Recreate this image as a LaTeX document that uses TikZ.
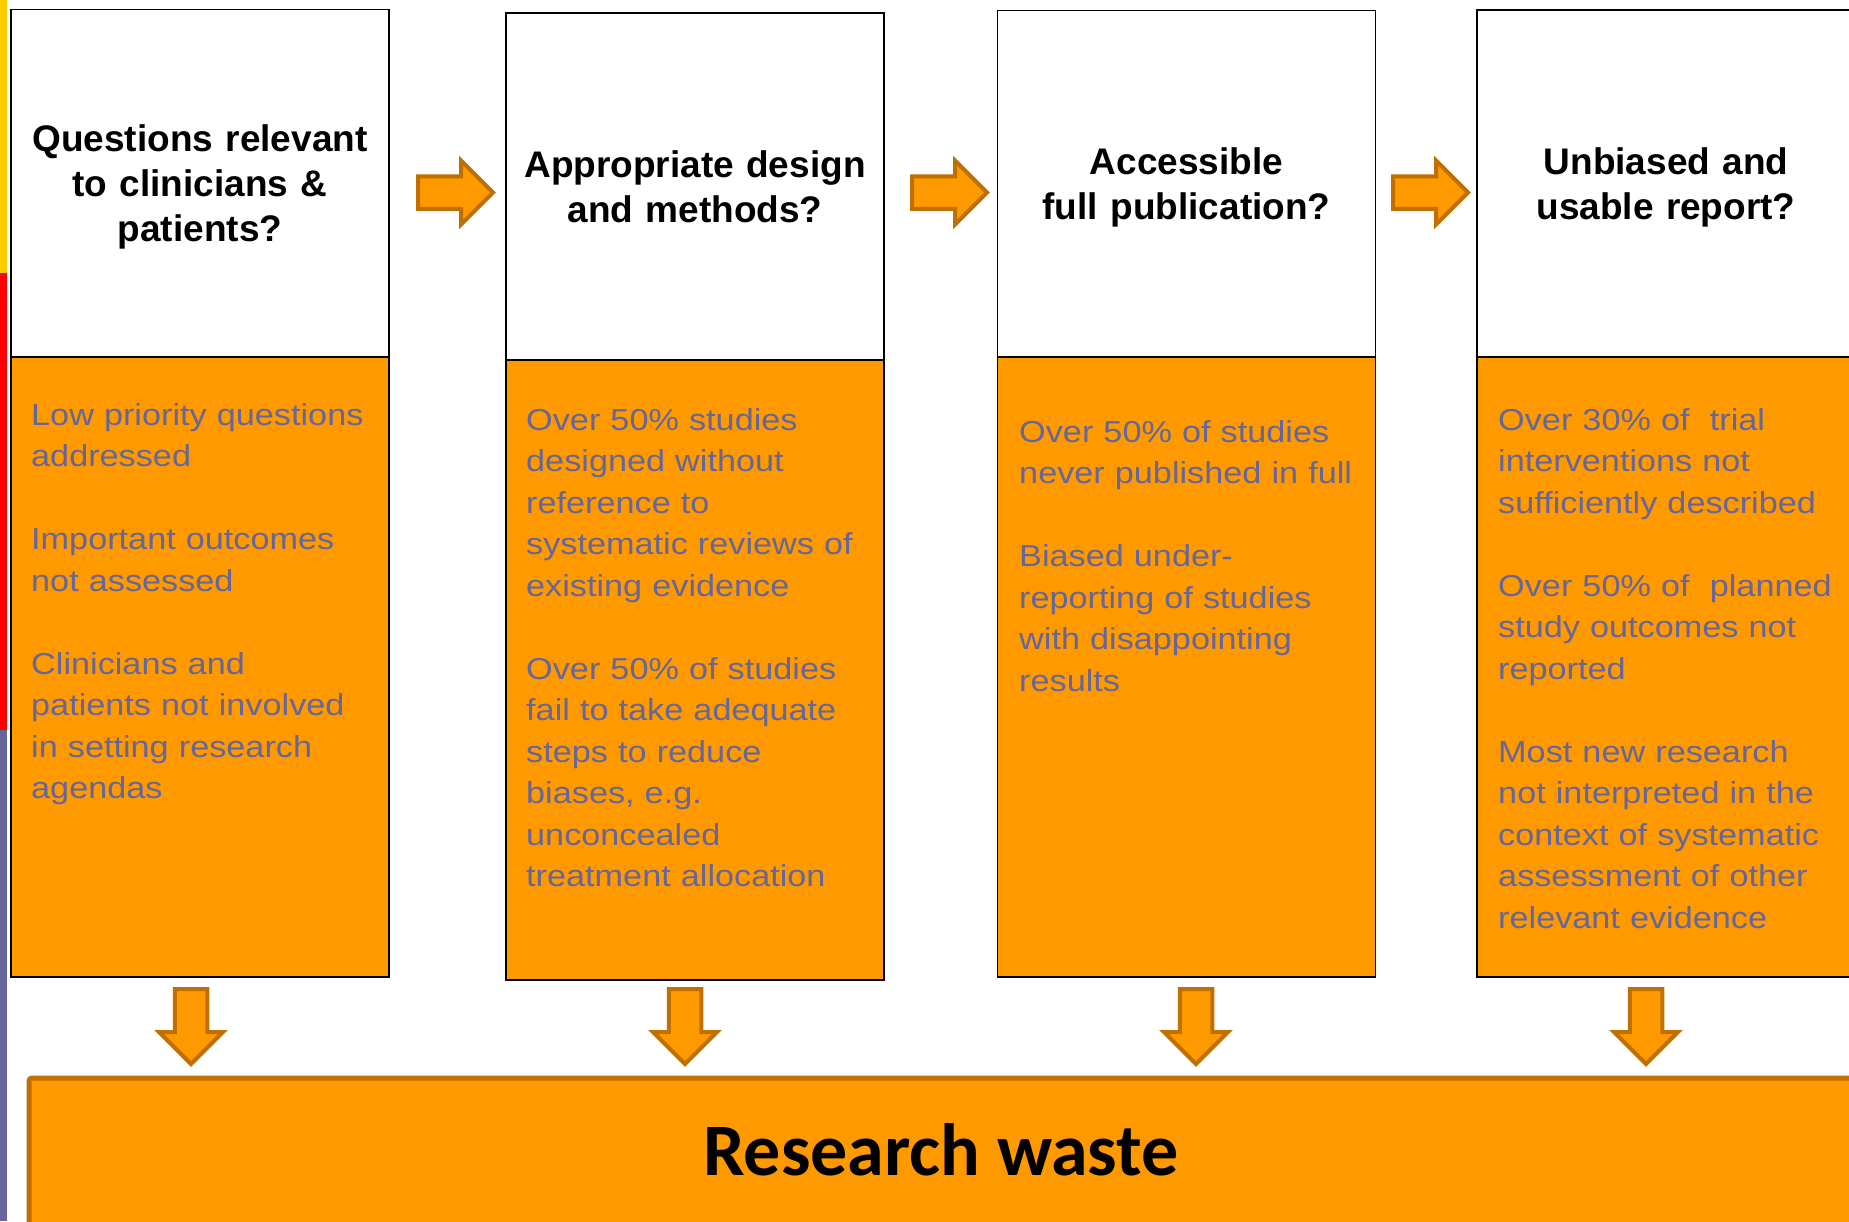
\documentclass[tikz,border=0pt]{standalone}
\usepackage{fontspec}
\setmainfont{Liberation Sans}
\newfontfamily\notefont[FakeStretch=1.13]{Liberation Sans}
\newfontfamily\wastefont{Carlito}
\usepackage{tikz}
\usetikzlibrary{shapes.arrows}

\definecolor{wasteorange}{HTML}{FF9900}
\definecolor{arrowedge}{HTML}{C07000}
\definecolor{notegrey}{HTML}{666699}
\definecolor{stripyellow}{HTML}{FFCC00}
\definecolor{stripred}{HTML}{FF0000}

\begin{document}
\begin{tikzpicture}[
  x=1pt, y=-1pt,
  stage/.style={
    draw=black, line width=1.5pt, fill=white,
    minimum width=378pt, minimum height=347pt, inner sep=0pt,
    text width=360pt, align=center,
    font=\bfseries\fontsize{37}{45}\selectfont,
  },
  loss/.style={
    draw=black, line width=1.5pt, fill=wasteorange,
    minimum width=378pt, minimum height=620pt, inner sep=0pt,
  },
  note/.style={
    anchor=base west, inner sep=0pt, text width=350pt, align=left,
    text=notegrey, font=\notefont\fontsize{30.3}{41.5}\selectfont,
  },
  flow arrow/.style={
    single arrow, fill=wasteorange, draw=arrowedge, line width=4pt,
    inner sep=14.25pt, minimum width=0pt, minimum height=75pt,
    single arrow head extend=15.75pt, anchor=tail,
  },
  ]
  \useasboundingbox (0,0) rectangle (1849,1221);
  \fill[stripyellow] (0,0) rectangle (7,273);
  \fill[stripred] (0,273) rectangle (7,730);
  \fill[notegrey] (0,730) rectangle (7,1221);

  \node [stage] (q1) at (200,183) {Questions relevant\\to clinicians \&\\\smash{patients?}};
  \node [loss] (w1) at (200,667) {};
  \node [note] (t1) at (31,425) {Low priority questions\\addressed\\[41.5pt]
    Important outcomes\\not assessed\\[41.5pt]
    Clinicians and\\patients not involved\\in setting research\\agendas};

  \node [stage] (q2) at (695,186.5) {Appropriate design\\and methods?};
  \node [loss] (w2) at (695,670) {};
  \node [note] (t2) at (526,430) {Over 50\% studies\\designed without\\reference to\\systematic reviews of\\existing evidence\\[41.5pt]
    Over 50\% of studies\\fail to take adequate\\steps to reduce\\biases, e.g.\\unconcealed\\treatment allocation};

  \node [stage] (q3) at (1186.5,184) {Accessible\\\smash{full publication?}};
  \node [loss] (w3) at (1186.5,667) {};
  \node [note] (t3) at (1019,442) {Over 50\% of studies\\never published in full\\[41.5pt]
    Biased under-\\reporting of studies\\with disappointing\\results};

  \node [stage] (q4) at (1666,183.5) {Unbiased and\\\smash{usable report?}};
  \node [loss] (w4) at (1666,667) {};
  \node [note] (t4) at (1498,430) {Over 30\% of \ trial\\interventions not\\sufficiently described\\[41.5pt]
    Over 50\% of \ planned\\study outcomes not\\reported\\[41.5pt]
    Most new research\\not interpreted in the\\context of systematic\\assessment of other\\relevant evidence};

  \node [flow arrow] (a12) at (416,192.5) {};
  \node [flow arrow] (a23) at (910,192.5) {};
  \node [flow arrow] (a34) at (1391,192.5) {};

  \node [flow arrow, shape border rotate=270] (d1) at (191,987) {};
  \node [flow arrow, shape border rotate=270] (d2) at (685,987) {};
  \node [flow arrow, shape border rotate=270] (d3) at (1196,987) {};
  \node [flow arrow, shape border rotate=270] (d4) at (1646,987) {};

  \node [draw=arrowedge, line width=5pt, fill=wasteorange, rounded corners=3pt,
    anchor=north west, minimum width=1900pt, minimum height=220pt] (waste) at (26.5,1075.5) {};
  \node [anchor=base, inner sep=0pt, font=\wastefont\bfseries\fontsize{74}{80}\selectfont] (wastelabel) at (941,1175) {Research waste};
\end{tikzpicture}
\end{document}
